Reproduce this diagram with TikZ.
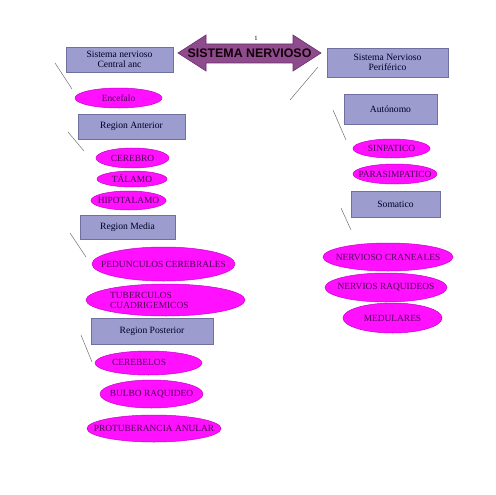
\documentclass[tikz,border=0pt]{standalone}
\usepackage{fontspec}
\setmainfont{Liberation Serif}
\newfontfamily\arrowfont{Liberation Sans}
\usetikzlibrary{shapes.geometric}
\definecolor{boxfill}{HTML}{9C9CCE}
\definecolor{boxline}{HTML}{7070A0}
\definecolor{elfill}{HTML}{FF10FF}
\definecolor{elline}{HTML}{C800C8}
\definecolor{eltext}{HTML}{4A0650}
\definecolor{arrfill}{HTML}{8E4C8E}
\definecolor{arrline}{HTML}{6A2E6A}
\definecolor{strayline}{HTML}{707070}
\tikzset{
  boxnode/.style={draw=boxline, fill=boxfill, line width=0.6pt, inner sep=0pt, minimum width=#1, font=\fontsize{9.6}{10.5}\selectfont, text=black!85!blue, align=center},
  elnode/.style={ellipse, draw=elline, fill=elfill, line width=0.5pt, inner sep=0pt},
  eltextstyle/.style={font=\fontsize{9.4}{10}\selectfont, text=eltext, inner sep=0pt, align=left}
  ,stray/.style={draw=strayline, line width=0.5pt}
}
\begin{document}
\begin{tikzpicture}[x=1pt,y=-1pt]
\useasboundingbox (0,0) rectangle (495,495);
% double arrow
\draw[fill=arrfill, draw=arrline, line width=0.6pt]
  (178,53) -- (206,35) -- (206,44) -- (293,44) -- (293,35) -- (321,53)
  -- (293,71) -- (293,63) -- (206,63) -- (206,71) -- cycle;
\node (title) at (249.5,53) {\arrowfont\bfseries\fontsize{12.4}{13}\selectfont\color{black!90!purple}SISTEMA NERVIOSO};
\node[font=\fontsize{6.5}{7}\selectfont] (one) at (256,38) {1};

% boxes
\node[boxnode=107pt, minimum height=25pt] (snc) at (119.5,59.5) {Sistema nervioso\\Central anc};
\node[boxnode=121pt, minimum height=29pt] (snp) at (387.5,62.5) {Sistema Nervioso\\Periférico};
\node[boxnode=107pt, minimum height=25pt] (ranterior) at (131.5,126.5) {Region Anterior};
\node[boxnode=95pt, minimum height=24pt] (rmedia) at (127.5,227) {Region Media};
\node[boxnode=122pt, minimum height=26pt] (rposterior) at (152,331) {Region Posterior};
\node[boxnode=93pt, minimum height=30pt] (autonomo) at (390.5,109) {Autónomo};
\node[boxnode=89pt, minimum height=26pt] (somatico) at (395.5,204) {Somatico};

% ellipses left
\node[elnode, minimum width=87pt, minimum height=20pt] (encefalo) at (118.5,98) {};
\node[eltextstyle] (encefalot) at (encefalo.center) {Encefalo};
\node[elnode, minimum width=73pt, minimum height=20pt] (cerebro) at (132.5,158) {};
\node[eltextstyle] (cerebrot) at (cerebro.center) {CEREBRO};
\node[elnode, minimum width=70pt, minimum height=16pt] (talamo) at (132,179) {};
\node[eltextstyle] (talamot) at (talamo.center) {TÁLAMO};
\node[elnode, minimum width=75pt, minimum height=19pt] (hipotalamo) at (128.5,200.5) {};
\node[eltextstyle] (hipotalamot) at (hipotalamo.center) {HIPOTALAMO};
\node[elnode, minimum width=143pt, minimum height=34pt] (pedunculos) at (163.5,264) {};
\node[eltextstyle] (pedunculost) at (pedunculos.center) {PEDUNCULOS CEREBRALES};
\node[elnode, minimum width=159pt, minimum height=32pt] (tuberculos) at (165.5,300) {};
\node[eltextstyle, anchor=west] (tuberculost) at (110,300) {TUBERCULOS\\CUADRIGEMICOS};
\node[elnode, minimum width=107pt, minimum height=24pt] (cerebelos) at (148.5,363) {};
\node[eltextstyle, anchor=west] (cerebelost) at (112,362) {CEREBELOS};
\node[elnode, minimum width=103pt, minimum height=28pt] (bulbo) at (151.5,394) {};
\node[eltextstyle] (bulbot) at (bulbo.center) {BULBO RAQUIDEO};
\node[elnode, minimum width=134pt, minimum height=27pt] (protuberancia) at (154,428.5) {};
\node[eltextstyle] (protuberanciat) at (protuberancia.center) {PROTUBERANCIA ANULAR};

% ellipses right
\node[elnode, minimum width=77pt, minimum height=19pt] (simpatico) at (391.5,148.5) {};
\node[eltextstyle] (simpaticot) at (simpatico.center) {SINPATICO};
\node[elnode, minimum width=84pt, minimum height=20pt] (parasimpatico) at (395,174) {};
\node[eltextstyle] (parasimpaticot) at (parasimpatico.center) {PARASIMPATICO};
\node[elnode, minimum width=130pt, minimum height=28pt] (craneales) at (388,257) {};
\node[eltextstyle] (cranealest) at (craneales.center) {NERVIOSO CRANEALES};
\node[elnode, minimum width=122pt, minimum height=29pt] (raquideos) at (386,287.5) {};
\node[eltextstyle] (raquideost) at (raquideos.center) {NERVIOS RAQUIDEOS};
\node[elnode, minimum width=99pt, minimum height=30pt] (medulares) at (392.5,318) {};
\node[eltextstyle] (medularest) at (medulares.center) {MEDULARES};

% stray lines
\coordinate (l1a) at (55,63); \coordinate (l1b) at (72,89);
\coordinate (l2a) at (318,67); \coordinate (l2b) at (290,100);
\coordinate (l3a) at (68,132); \coordinate (l3b) at (84,151);
\coordinate (l4a) at (70,233); \coordinate (l4b) at (86,257);
\coordinate (l5a) at (81,335); \coordinate (l5b) at (92,362);
\coordinate (l6a) at (333,110); \coordinate (l6b) at (346,140);
\coordinate (l7a) at (341,208); \coordinate (l7b) at (351,230);
\draw[stray] (l1a) -- (l1b);
\draw[stray] (l2a) -- (l2b);
\draw[stray] (l3a) -- (l3b);
\draw[stray] (l4a) -- (l4b);
\draw[stray] (l5a) -- (l5b);
\draw[stray] (l6a) -- (l6b);
\draw[stray] (l7a) -- (l7b);
\end{tikzpicture}
\end{document}
